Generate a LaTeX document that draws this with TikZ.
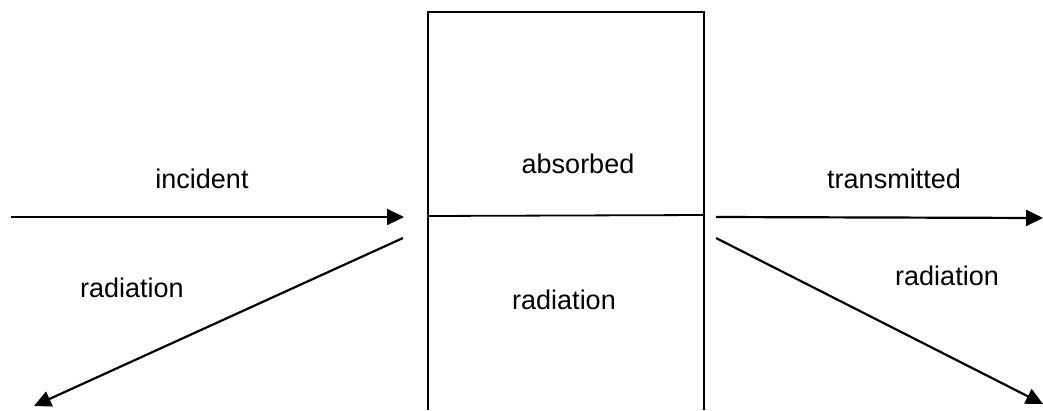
\documentclass[tikz,border=0pt]{standalone}
\usepackage{fontspec}
\setmainfont{Liberation Sans}
\usetikzlibrary{arrows.meta}
\begin{document}
\begin{tikzpicture}[x=1pt,y=-1pt,
  wall/.style={line width=2.2pt,line join=miter},
  ray/.style={line width=2.2pt,-{Triangle[length=17pt,width=16pt]}},
  lbl/.style={anchor=base,inner sep=0pt,font=\fontsize{27}{32}\selectfont}]
  \useasboundingbox (0,0) rectangle (1043,410);
  % slab, open at the bottom, with its dividing line
  \coordinate (bl) at (428,410);
  \coordinate (tl) at (428,12);
  \coordinate (tr) at (704,12);
  \coordinate (br) at (704,410);
  \draw[wall] (bl) -- (tl) -- (tr) -- (br);
  \coordinate (ml) at (428,216);
  \coordinate (mr) at (704,215);
  \draw[line width=1.8pt] (ml) -- (mr);
  % ray end points
  \coordinate (inS) at (11,217);
  \coordinate (inE) at (404,217);
  \coordinate (trS) at (716,217);
  \coordinate (trE) at (1043,218);
  \coordinate (reS) at (403,238);
  \coordinate (reE) at (34,406);
  \coordinate (scS) at (716,238);
  \coordinate (scE) at (1043,404);
  \draw[ray] (inS) -- (inE);
  \draw[ray] (trS) -- (trE);
  \draw[ray] (reS) -- (reE);
  \draw[ray] (scS) -- (scE);
  % labels
  \node[lbl] (t1) at (202,188) {incident};
  \node[lbl] (t2) at (578,173) {absorbed};
  \node[lbl] (t3) at (894,188) {transmitted};
  \node[lbl] (t4) at (132,297) {radiation};
  \node[lbl] (t5) at (564,309) {radiation};
  \node[lbl] (t6) at (947,285) {radiation};
\end{tikzpicture}
\end{document}
